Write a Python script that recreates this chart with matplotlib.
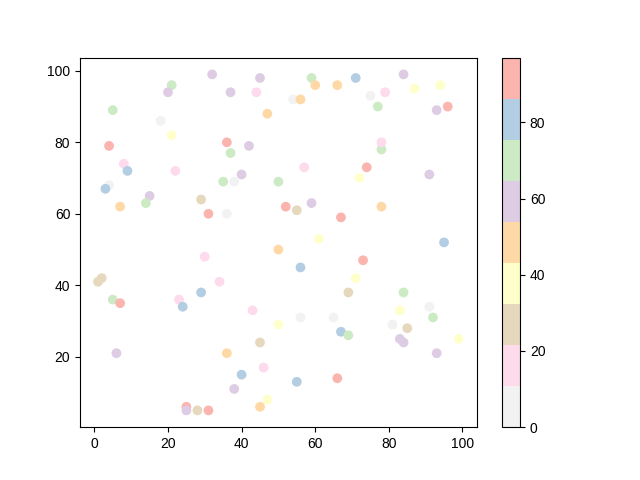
import matplotlib
matplotlib.use("Agg")
import matplotlib.pyplot as plt

plt.rcParams['font.family'] = ['Liberation Sans', 'DejaVu Sans']

# colour values, one per band of the Pastel1_r scale (0..97, 9 bands)
LG, PK, TN, YL, OR, PU, GR, BL, RD = 5, 16, 27, 38, 48, 59, 70, 81, 92

x = [32, 45, 21, 20, 37, 44, 5, 47, 18, 21,
     4, 36, 42, 37, 8, 9, 22, 4, 3, 40,
     35, 38, 50, 15, 14, 7, 29, 31, 36,
     59, 71, 84, 60, 66, 94, 87, 54, 56, 75,
     79, 77, 93, 96, 78, 78, 57, 74, 72, 91,
     52, 55, 59, 78, 67, 61, 95,
     2, 1, 5, 7, 6, 30, 34, 29, 23, 24,
     43, 50, 50, 45, 36, 46, 40, 38, 47, 45,
     25, 25, 28, 31,
     56, 73, 71, 69, 84, 83, 91, 92, 56, 65,
     67, 69, 81, 85, 83, 84, 99, 93, 55, 66]
y = [99, 98, 96, 94, 94, 94, 89, 88, 86, 82,
     79, 80, 79, 77, 74, 72, 72, 68, 67, 71,
     69, 69, 69, 65, 63, 62, 64, 60, 60,
     98, 98, 99, 96, 96, 96, 95, 92, 92, 93,
     94, 90, 89, 90, 78, 80, 73, 73, 70, 71,
     62, 61, 63, 62, 59, 53, 52,
     42, 41, 36, 35, 21, 48, 41, 38, 36, 34,
     33, 50, 29, 24, 21, 17, 15, 11, 8, 6,
     6, 5, 5, 5,
     45, 47, 42, 38, 38, 33, 34, 31, 31, 31,
     27, 26, 29, 28, 25, 24, 25, 21, 13, 14]
c = [PU, PU, GR, PU, PU, PK, GR, OR, LG, YL,
     RD, RD, PU, GR, PK, BL, PK, LG, BL, PU,
     GR, LG, GR, PU, GR, OR, TN, RD, LG,
     GR, BL, PU, OR, OR, YL, YL, LG, OR, LG,
     PK, GR, PU, RD, GR, PK, PK, RD, YL, PU,
     RD, TN, PU, OR, RD, YL, BL,
     TN, TN, GR, RD, PU, PK, PK, BL, PK, BL,
     PK, OR, YL, TN, OR, PK, BL, PU, YL, OR,
     RD, PU, TN, RD,
     BL, RD, YL, TN, GR, YL, LG, GR, LG, LG,
     BL, GR, LG, TN, PU, PU, YL, PU, BL, RD]

fig = plt.figure(figsize=(6.4, 4.8), dpi=100)
ax = fig.add_subplot()
sc = ax.scatter(x, y, c=c, cmap="Pastel1_r", vmin=0, vmax=97)
fig.colorbar(sc, ax=ax)
fig.savefig("out.png")
